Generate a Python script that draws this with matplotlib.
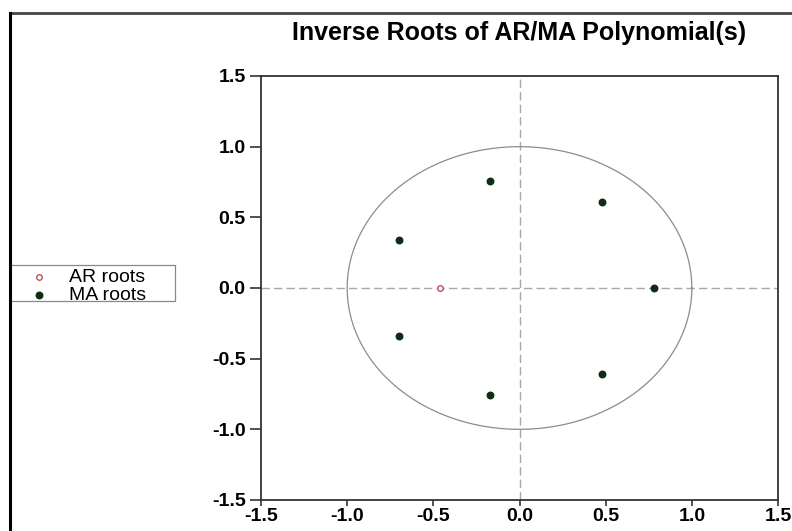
import numpy as np
import matplotlib
matplotlib.use("Agg")
from matplotlib import pyplot as plt
from matplotlib.lines import Line2D
from matplotlib.patches import Rectangle

plt.rcParams['font.family'] = ['Liberation Sans', 'DejaVu Sans']

# inverse roots
AR_Real = [-0.46]
AR_Imag = [0.0]
MA_Real = [0.78, 0.48, 0.48, -0.17, -0.17, -0.70, -0.70]
MA_Imag = [0.0, 0.61, -0.61, 0.76, -0.76, 0.34, -0.34]
Tick_Values = [-1.5, -1.0, -0.5, 0.0, 0.5, 1.0, 1.5]
Tick_Labels = ['-1.5', '-1.0', '-0.5', '0.0', '0.5', '1.0', '1.5']

Fig = plt.figure(figsize=(7.92, 5.31), dpi=100)
Ax = Fig.add_axes([261/792, 1-500/531, 517/792, 424/531])

# unit circle
Theta = np.linspace(0, 2*np.pi, 400)
Ax.plot(np.cos(Theta), np.sin(Theta), color='#8c8c8c', lw=0.9, zorder=1)

# zero lines
Ax.axhline(0, color='#a8a8a8', lw=1.0, dashes=(6, 3), zorder=0)
Ax.axvline(0, color='#a8a8a8', lw=1.0, dashes=(6, 3), zorder=0)

Ax.scatter(AR_Real, AR_Imag, s=16, facecolors='white', edgecolors='#c0505a',
           linewidths=1.0, zorder=3, label='AR roots')
Ax.scatter(MA_Real, MA_Imag, s=22, color='#0d2e14', zorder=3, label='MA roots')

Ax.set_xlim(-1.5, 1.5)
Ax.set_ylim(-1.5, 1.5)
Ax.set_xticks(Tick_Values)
Ax.set_xticklabels(Tick_Labels)
Ax.set_yticks(Tick_Values)
Ax.set_yticklabels(Tick_Labels)
for Lab in Ax.get_xticklabels() + Ax.get_yticklabels():
	Lab.set_fontweight('bold')
	Lab.set_fontsize(14)
Ax.tick_params(axis='x', length=4, width=1.2, color='#333333', pad=2, direction='out')
Ax.tick_params(axis='y', length=8, width=1.2, color='#333333', pad=3, direction='out')
for Side in Ax.spines.values():
	Side.set_color('#333333')
	Side.set_linewidth(1.3)

Fig.text(519/792, 1-33/531, 'Inverse Roots of AR/MA Polynomial(s)', ha='center',
         va='center', fontsize=18, fontweight='bold')

Leg = Ax.legend(loc='upper left', bbox_to_anchor=(10/792, 1-265/531),
                bbox_transform=Fig.transFigure, frameon=False,
                fontsize=14, handletextpad=0.25, borderpad=0.2, labelspacing=0.0,
                handlelength=2.6, borderaxespad=0)
# legend box drawn separately so its width follows the reference
Fig.add_artist(Rectangle((10/792, 1-301/531), 165/792, 36/531, fill=False,
                         edgecolor='#888888', lw=0.9, transform=Fig.transFigure))

# frame of the screenshot
Fig.add_artist(Line2D([10/792, 1.0], [1-13/531, 1-13/531], color='#444444', lw=2,
                      transform=Fig.transFigure))
Fig.add_artist(Line2D([10/792, 10/792], [0.0, 1-13/531], color='black', lw=2.2,
                      transform=Fig.transFigure))

Fig.savefig('out.png', dpi=100)
